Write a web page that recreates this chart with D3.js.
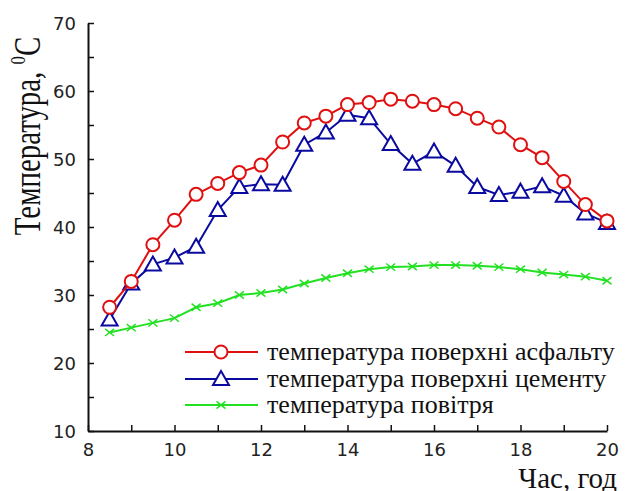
<!DOCTYPE html>
<html><head><meta charset="utf-8">
<script src="https://cdn.jsdelivr.net/npm/d3@7"></script>
<style>body{margin:0;background:#fff}</style>
</head><body>
<svg id="chart" width="629" height="491"></svg>
<script>
const hours = [8.5,9,9.5,10,10.5,11,11.5,12,12.5,13,13.5,14,14.5,15,15.5,16,16.5,17,17.5,18,18.5,19,19.5,20];
const asphalt = [28.2,32.0,37.4,41.0,44.8,46.4,48.0,49.1,52.5,55.3,56.3,58.0,58.3,58.8,58.5,58.0,57.4,56.0,54.7,52.1,50.2,46.7,43.3,40.9];
const cement  = [26.4,31.7,34.5,35.5,37.1,42.5,45.9,46.3,46.2,52.1,53.9,56.5,56.0,52.2,49.3,51.1,49.0,45.9,44.7,45.2,46.0,44.6,42.0,40.6];
const air     = [24.5,25.2,25.9,26.6,28.2,28.8,30.0,30.3,30.8,31.7,32.5,33.2,33.8,34.1,34.2,34.4,34.4,34.3,34.1,33.8,33.3,33.0,32.7,32.1];
const seriesNames = ["температура поверхні асфальту","температура поверхні цементу","температура повітря"];
const seriesColors = ["#e01010","#0a0aa0","#22e022"];
const seriesMarkers = ["circle","triangle","cross"];
const yTicks = [10,20,30,40,50,60,70];
const xTicks = [8,10,12,14,16,18,20];
const SERIF = "Liberation Serif, Tinos, DejaVu Serif, serif";

const svg = d3.select("#chart");
const x = d3.scaleLinear().domain([8,20]).range([88,607]);
const y = d3.scaleLinear().domain([10,70]).range([431,23]);

const yAxis = svg.append("g").attr("transform","translate(88,0)")
  .call(d3.axisLeft(y).tickValues(yTicks).tickSize(-6).tickSizeOuter(0).tickPadding(12));
const yMinor = svg.append("g").attr("transform","translate(88,0)")
  .call(d3.axisLeft(y).tickValues(d3.range(15,70,10)).tickSize(-6).tickSizeOuter(0).tickFormat(""));
const xAxis = svg.append("g").attr("transform","translate(0,431)")
  .call(d3.axisBottom(x).tickValues(xTicks).tickSize(-6).tickSizeOuter(0).tickPadding(12));
const xMinor = svg.append("g").attr("transform","translate(0,431)")
  .call(d3.axisBottom(x).tickValues(d3.range(9,20,2)).tickSize(-6).tickSizeOuter(0).tickFormat(""));
[yAxis,yMinor,xAxis,xMinor].forEach(g=>{
  g.attr("font-family",null).attr("font-size",null);
  g.selectAll("path.domain").attr("stroke","#111").attr("stroke-width",2);
  g.selectAll(".tick line").attr("stroke","#111").attr("stroke-width",1.5);
  g.selectAll("text").style("font-family","DejaVu Sans").style("font-size","18px").attr("fill","#222");
});
yMinor.select("path.domain").remove();
xMinor.select("path.domain").remove();
yAxis.selectAll("text").attr("dy","0.35em");

const yt = svg.append("text").attr("transform","translate(40,136) rotate(-90) scale(0.76,1)")
  .attr("text-anchor","middle").style("font-family",SERIF).style("font-size","38px").attr("fill","#111");
yt.append("tspan").text("Температура, ");
yt.append("tspan").text("0").style("font-size","22px").attr("dy",-15);
yt.append("tspan").text("C").attr("dy",15);
svg.append("text").attr("x",617).attr("y",488).attr("text-anchor","end")
  .style("font-family",SERIF).style("font-size","29px").attr("fill","#111").text("Час, год");

const data = [asphalt,cement,air];
const line = d3.line().x(d=>x(d[0])).y(d=>y(d[1]));
function drawMarker(g, type, color, cx, cy){
  if(type==="circle"){
    g.append("circle").attr("cx",cx).attr("cy",cy).attr("r",6.5).attr("fill","#fff").attr("stroke",color).attr("stroke-width",2);
  } else if(type==="triangle"){
    const s=8;
    g.append("path").attr("d",`M${cx},${cy-s}L${cx+s},${cy+s*0.75}L${cx-s},${cy+s*0.75}Z`)
      .attr("fill","#fff").attr("stroke",color).attr("stroke-width",2);
  } else {
    const s=4.5;
    g.append("path").attr("d",`M${cx-s},${cy-s*0.8}L${cx+s},${cy+s*0.8}M${cx-s},${cy+s*0.8}L${cx+s},${cy-s*0.8}`)
      .attr("stroke",color).attr("stroke-width",1.5);
  }
}
data.slice().reverse().forEach((vals,ri)=>{
  const i = data.length-1-ri;
  const pts = hours.map((h,k)=>[h,vals[k]]);
  const g = svg.append("g");
  g.append("path").attr("d",line(pts)).attr("fill","none").attr("stroke",seriesColors[i]).attr("stroke-width",2);
  pts.forEach(p=>drawMarker(g,seriesMarkers[i],seriesColors[i],x(p[0]),y(p[1])));
});

const legY = [352,379,405];
seriesNames.forEach((n,i)=>{
  const g = svg.append("g");
  g.append("line").attr("x1",185).attr("x2",258).attr("y1",legY[i]).attr("y2",legY[i])
    .attr("stroke",seriesColors[i]).attr("stroke-width",2);
  drawMarker(g,seriesMarkers[i],seriesColors[i],221,legY[i]);
  g.append("text").attr("x",267).attr("y",legY[i]).attr("dy","0.32em")
    .style("font-family",SERIF).style("font-size","26px").attr("fill","#111").text(n);
});
</script>
</body></html>
